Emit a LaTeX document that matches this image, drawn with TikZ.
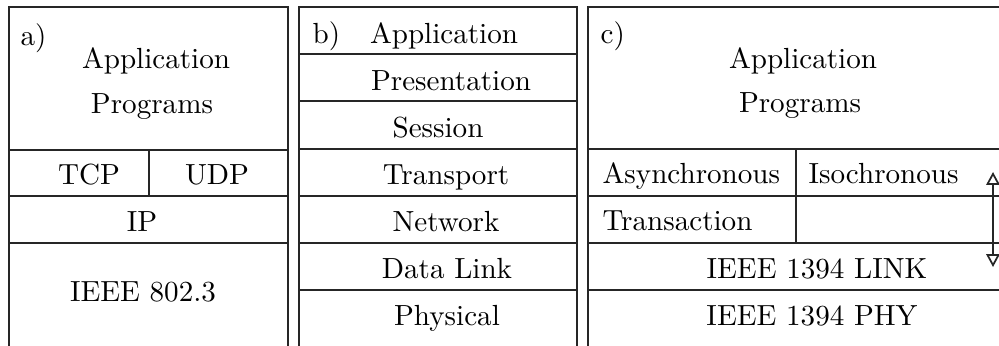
\documentclass[tikz,border=0pt]{standalone}
\usetikzlibrary{arrows.meta}
\begin{document}
\begin{tikzpicture}[x=0.3436pt,y=-0.3436pt,
  rule/.style={line width=0.6pt,black!85},
  lbl/.style={anchor=base,inner sep=0pt},
  lblw/.style={anchor=base west,inner sep=0pt},
  opentri/.tip={Triangle[open,length=4.4pt,width=4.6pt]}]
\useasboundingbox (0,0) rectangle (999,345);
\clip (0,0) rectangle (999,345);

% a) TCP/IP stack
\draw[rule] (9,360) -- (9,7) -- (288,7) -- (288,360);
\draw[rule] (9,150) -- (288,150) (9,196) -- (288,196) (9,243) -- (288,243);
\draw[rule] (149,150) -- (149,196);
\node[lblw] (alab) at (20,45) {a)};
\node[lbl] (aapp) at (156,68) {Application};
\node[lbl] (aprog) at (152,113) {Programs};
\node[lbl] (tcp) at (89,184) {TCP};
\node[lbl] (udp) at (217,184) {UDP};
\node[lbl] (ip) at (142,231) {IP};
\node[lbl] (eth) at (143,301) {IEEE 802.3};

% b) OSI reference model
\draw[rule] (299,360) -- (299,7) -- (577,7) -- (577,360);
\foreach \yy in {54,101,149,196,243,290}
  \draw[rule] (299,\yy) -- (577,\yy);
\node[lblw] (blab) at (312,43) {b)};
\node[lbl] (bapp) at (444,43) {Application};
\node[lbl] (pres) at (451,90) {Presentation};
\node[lbl] (sess) at (438,137) {Session};
\node[lbl] (trans) at (446,184) {Transport};
\node[lbl] (net) at (446,231) {Network};
\node[lbl] (dlink) at (447,278) {Data Link};
\node[lbl] (phys) at (447,325) {Physical};

% c) IEEE 1394 stack
\draw[rule] (588,360) -- (588,7) -- (1010,7);
\foreach \yy in {149,196,243,290}
  \draw[rule] (588,\yy) -- (1010,\yy);
\draw[rule] (796,149) -- (796,243);
\node[lblw] (clab) at (600,43) {c)};
\node[lbl] (capp) at (803,68) {Application};
\node[lbl] (cprog) at (800,112) {Programs};
\node[lblw] (async) at (602,183) {Asynchronous};
\node[lblw] (iso) at (808,183) {Isochronous};
\node[lblw] (trx) at (602,230) {Transaction};
\node[lbl] (link) at (817,278) {IEEE 1394 LINK};
\node[lbl] (phy) at (812,325) {IEEE 1394 PHY};

% two-way arrow beside the link layer
\coordinate (arrtop) at (993,172);
\coordinate (arrbot) at (993,267);
\draw[rule,opentri-opentri] (arrtop) -- (arrbot);
\end{tikzpicture}
\end{document}
